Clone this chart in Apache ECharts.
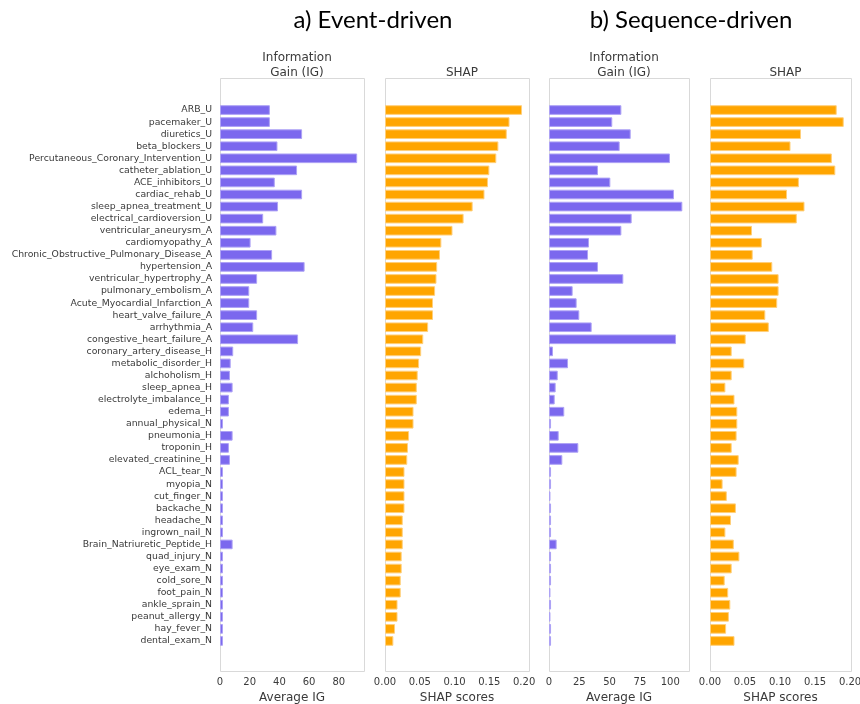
<!DOCTYPE html>
<html>
<head>
<meta charset="utf-8">
<script src="https://cdn.jsdelivr.net/npm/echarts@6/dist/echarts.min.js"></script>
<style>
  html, body { margin: 0; padding: 0; background: #fff; }
  #chart { width: 860px; height: 704px; }
</style>
</head>
<body>
<div id="chart"></div>
<script>
// Feature names, top to bottom
const features = [
  'ARB_U', 'pacemaker_U', 'diuretics_U', 'beta_blockers_U',
  'Percutaneous_Coronary_Intervention_U', 'catheter_ablation_U', 'ACE_inhibitors_U',
  'cardiac_rehab_U', 'sleep_apnea_treatment_U', 'electrical_cardioversion_U',
  'ventricular_aneurysm_A', 'cardiomyopathy_A', 'Chronic_Obstructive_Pulmonary_Disease_A',
  'hypertension_A', 'ventricular_hypertrophy_A', 'pulmonary_embolism_A',
  'Acute_Myocardial_Infarction_A', 'heart_valve_failure_A', 'arrhythmia_A',
  'congestive_heart_failure_A', 'coronary_artery_disease_H', 'metabolic_disorder_H',
  'alchoholism_H', 'sleep_apnea_H', 'electrolyte_imbalance_H', 'edema_H',
  'annual_physical_N', 'pneumonia_H', 'troponin_H', 'elevated_creatinine_H',
  'ACL_tear_N', 'myopia_N', 'cut_finger_N', 'backache_N', 'headache_N',
  'ingrown_nail_N', 'Brain_Natriuretic_Peptide_H', 'quad_injury_N', 'eye_exam_N',
  'cold_sore_N', 'foot_pain_N', 'ankle_sprain_N', 'peanut_allergy_N', 'hay_fever_N',
  'dental_exam_N'
];

// a) Event-driven: average information gain
const eventIG = [
  33.6, 33.6, 55.3, 38.7, 92.4, 51.9, 36.9, 55.3, 39.1, 29.1,
  38.0, 20.6, 35.1, 57.0, 25.0, 19.7, 19.7, 25.0, 22.4, 52.6,
  8.9, 7.2, 6.7, 8.5, 6.0, 6.0, 2.0, 8.5, 6.0, 6.7,
  2.0, 2.0, 2.0, 2.0, 2.0, 2.0, 8.5, 2.0, 2.0, 2.0,
  2.0, 2.0, 2.0, 2.0, 2.0
];

// a) Event-driven: SHAP scores
const eventSHAP = [
  0.197, 0.179, 0.175, 0.163, 0.160, 0.150, 0.148, 0.143, 0.126, 0.113,
  0.097, 0.081, 0.079, 0.075, 0.074, 0.072, 0.069, 0.069, 0.062, 0.055,
  0.052, 0.049, 0.047, 0.0457, 0.0457, 0.041, 0.041, 0.0346, 0.033, 0.032,
  0.028, 0.028, 0.028, 0.028, 0.0255, 0.0255, 0.0255, 0.024, 0.024, 0.0226,
  0.0226, 0.018, 0.018, 0.0144, 0.012
];

// b) Sequence-driven: average information gain
const seqIG = [
  59.7, 52.2, 67.4, 58.3, 99.8, 40.4, 50.6, 103.1, 110.0, 68.2,
  59.7, 33.0, 32.2, 40.4, 61.3, 19.5, 22.8, 25.0, 35.2, 104.8,
  3.3, 15.7, 7.2, 5.5, 4.7, 12.6, 1.7, 8.0, 24.2, 11.0,
  1.7, 1.7, 1.2, 1.7, 1.7, 1.7, 6.3, 1.7, 1.7, 1.7,
  1.2, 1.7, 1.2, 1.7, 1.7
];

// b) Sequence-driven: SHAP scores
const seqSHAP = [
  0.181, 0.191, 0.130, 0.115, 0.174, 0.179, 0.127, 0.110, 0.135, 0.124,
  0.060, 0.074, 0.061, 0.089, 0.098, 0.098, 0.096, 0.079, 0.084, 0.051,
  0.031, 0.049, 0.031, 0.022, 0.035, 0.039, 0.039, 0.038, 0.031, 0.041,
  0.038, 0.018, 0.024, 0.037, 0.030, 0.022, 0.034, 0.042, 0.031, 0.021,
  0.026, 0.029, 0.027, 0.023, 0.035
];

// Axis extents and tick steps
const axisMax = [97, 0.207, 115.5, 0.2014];
const axisStep = [20, 0.05, 25, 0.05];
const axisNames = ['Average IG', 'SHAP scores', 'Average IG', 'SHAP scores'];
const panelTitles = ['Information\nGain (IG)', 'SHAP', 'Information\nGain (IG)', 'SHAP'];
const groupTitles = ['a) Event-driven', 'b) Sequence-driven'];

const PURPLE = '#7B68EE';
const ORANGE = '#FFA500';

const panels = [
  { left: 220, width: 144, data: eventIG, color: PURPLE, edge: '#ada2f5', decimals: 0 },
  { left: 385, width: 144, data: eventSHAP, color: ORANGE, edge: '#ffcf7a', decimals: 2 },
  { left: 549, width: 140, data: seqIG, color: PURPLE, edge: '#ada2f5', decimals: 0 },
  { left: 710, width: 141, data: seqSHAP, color: ORANGE, edge: '#ffcf7a', decimals: 2 }
];

const FRAME_TOP = 78, FRAME_H = 593;
const GRID_TOP = 104, GRID_H = 543;
const TEXT = '#3a3a3a';
const FONT = 'DejaVu Sans';

const chart = echarts.init(document.getElementById('chart'), null, { renderer: 'canvas' });

const option = {
  animation: false,
  backgroundColor: '#fff',
  textStyle: { fontFamily: FONT },
  title: [
    { text: groupTitles[0], left: 368, top: 3, textAlign: 'center',
      textStyle: { fontFamily: 'Lato', fontSize: 24, fontWeight: 'normal', color: '#000' } },
    { text: groupTitles[1], left: 686, top: 3, textAlign: 'center',
      textStyle: { fontFamily: 'Lato', fontSize: 24, fontWeight: 'normal', color: '#000' } }
  ].concat(panels.map((p, i) => ({
    text: panelTitles[i],
    left: p.left + p.width / 2,
    top: panelTitles[i].indexOf('\n') >= 0 ? 45 : 60,
    textAlign: 'center',
    textStyle: { fontFamily: FONT, fontSize: 12, lineHeight: 15, fontWeight: 'normal', color: TEXT }
  }))),
  graphic: panels.map(p => ({
    type: 'rect',
    silent: true,
    shape: { x: p.left + 0.5, y: FRAME_TOP + 0.5, width: p.width, height: FRAME_H },
    style: { fill: null, stroke: '#d9d9d9', lineWidth: 1 }
  })),
  grid: panels.map(p => ({
    left: p.left, width: p.width, top: GRID_TOP, height: GRID_H,
    containLabel: false, outerBoundsMode: 'none'
  })),
  xAxis: panels.map((p, i) => ({
    type: 'value',
    gridIndex: i,
    min: 0,
    max: axisMax[i],
    interval: axisStep[i],
    name: axisNames[i],
    nameLocation: 'middle',
    nameGap: 45,
    nameTextStyle: { fontFamily: FONT, fontSize: 12, color: TEXT },
    axisLine: { show: false },
    axisTick: { show: false },
    splitLine: { show: false },
    axisLabel: {
      margin: 30,
      showMaxLabel: false,
      fontFamily: FONT,
      fontSize: 10,
      color: TEXT,
      formatter: v => v.toFixed(p.decimals)
    }
  })),
  yAxis: panels.map((p, i) => ({
    type: 'category',
    gridIndex: i,
    data: features,
    inverse: true,
    axisLine: { show: false },
    axisTick: { show: false },
    splitLine: { show: false },
    axisLabel: {
      show: i === 0,
      interval: 0,
      margin: 8,
      fontFamily: FONT,
      fontSize: 9.3,
      color: TEXT
    }
  })),
  series: panels.map((p, i) => ({
    type: 'bar',
    xAxisIndex: i,
    yAxisIndex: i,
    data: p.data,
    barWidth: '80%',
    itemStyle: { color: p.color, borderColor: p.edge, borderWidth: 1 }
  }))
};

chart.setOption(option);
</script>
</body>
</html>
